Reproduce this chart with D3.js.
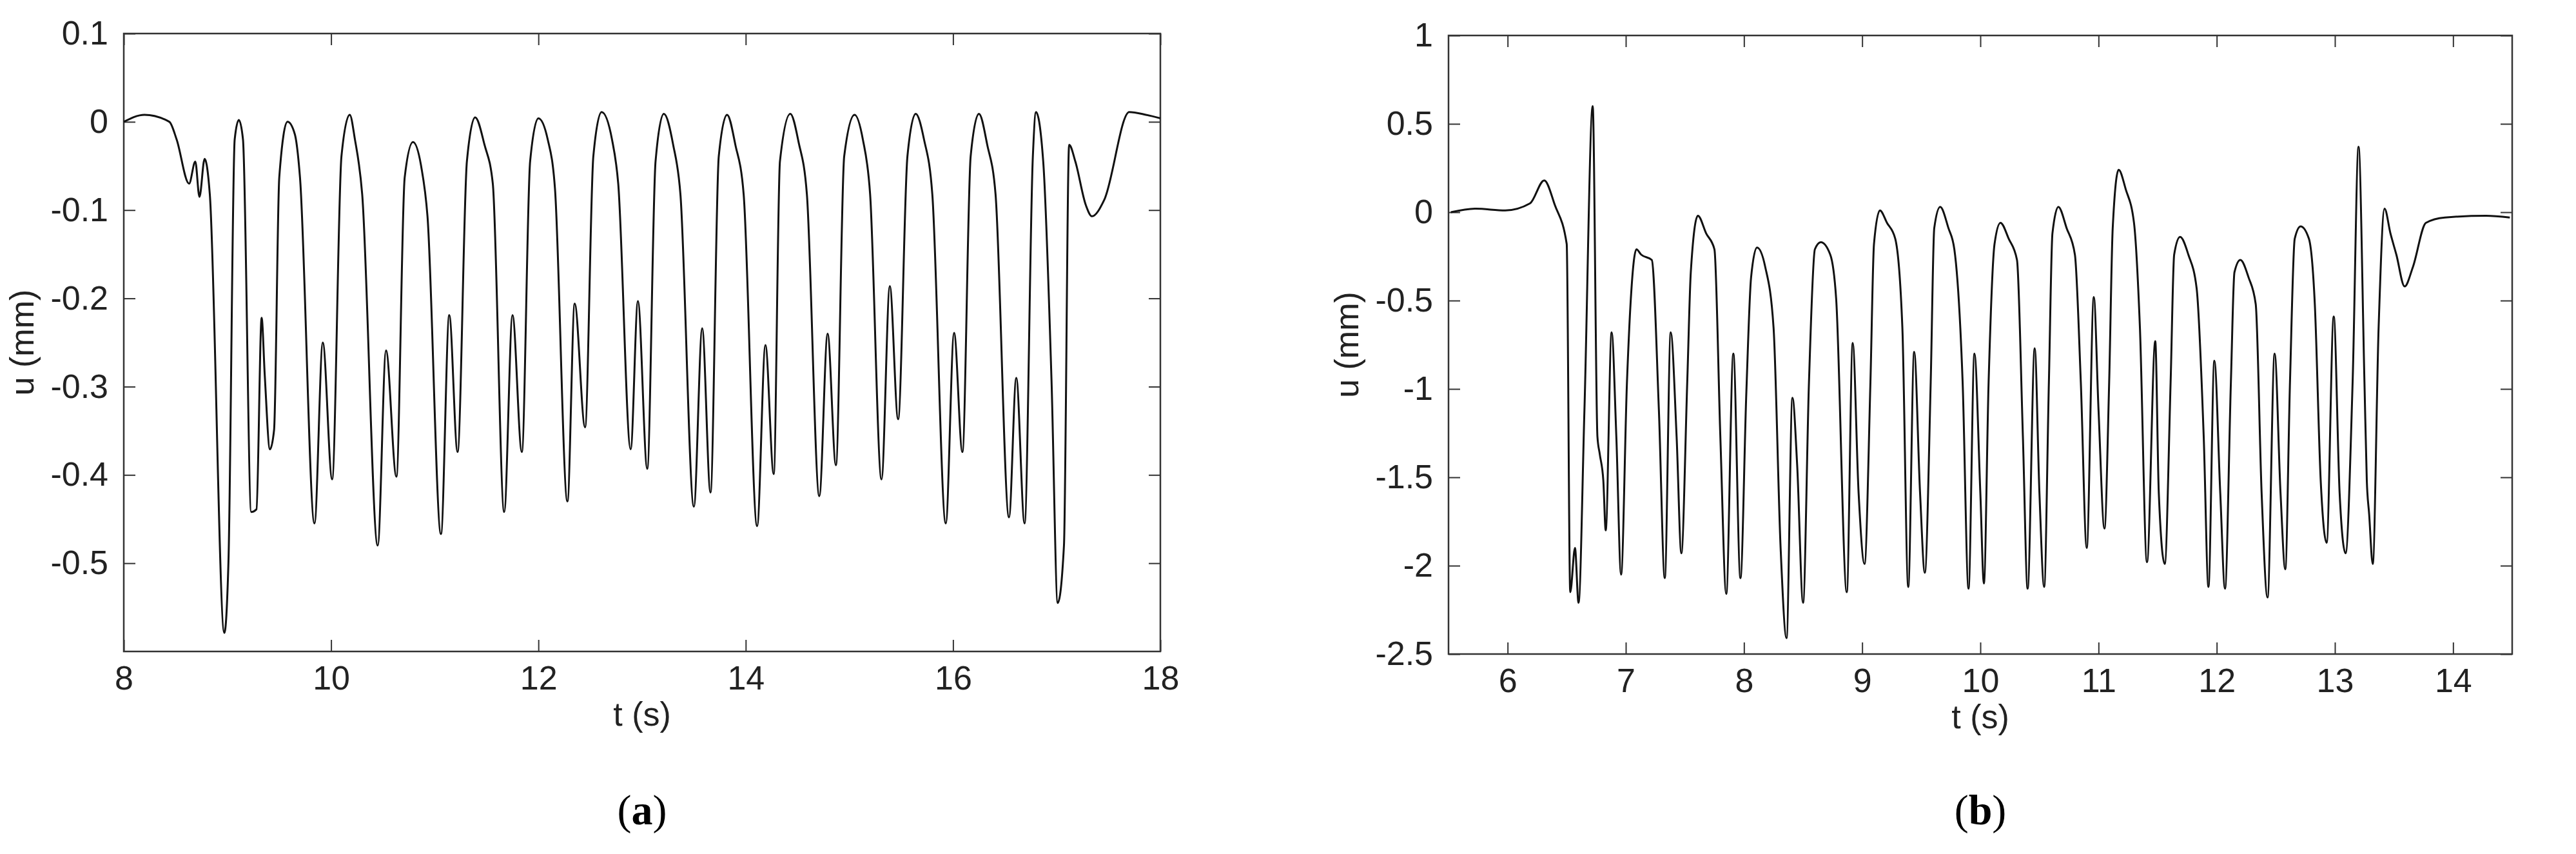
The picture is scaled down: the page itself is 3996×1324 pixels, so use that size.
<!DOCTYPE html>
<html><head><meta charset="utf-8">
<script src="https://cdn.jsdelivr.net/npm/d3@7"></script>
<style>body{margin:0;background:#fff}svg{display:block}</style>
</head><body>
<script>
const aT=[8.00,8.20,8.44,8.51,8.63,8.69,8.73,8.78,8.83,8.97,9.01,9.07,9.11,9.15,9.23,9.28,9.33,9.36,9.41,9.45,9.50,9.58,9.65,9.70,9.84,9.92,10.01,10.10,10.18,10.23,10.30,10.45,10.53,10.63,10.71,10.79,10.87,10.93,11.06,11.14,11.22,11.31,11.39,11.48,11.56,11.67,11.75,11.84,11.92,12.00,12.09,12.16,12.28,12.35,12.45,12.53,12.61,12.71,12.77,12.89,12.96,13.05,13.13,13.21,13.30,13.37,13.50,13.58,13.66,13.74,13.82,13.90,13.98,14.11,14.19,14.27,14.33,14.43,14.51,14.59,14.71,14.79,14.87,14.95,15.05,15.13,15.20,15.31,15.39,15.47,15.56,15.64,15.72,15.80,15.93,16.01,16.09,16.17,16.25,16.33,16.41,16.54,16.61,16.69,16.77,16.80,16.87,16.95,17.01,17.07,17.12,17.18,17.28,17.34,17.46,17.70,17.86,18.00];
const aU=[0,0.008,0,-0.02,-0.07,-0.045,-0.085,-0.042,-0.082,-0.579,-0.498,-0.02,0.002,-0.02,-0.442,-0.439,-0.222,-0.287,-0.371,-0.349,-0.063,0,-0.014,-0.063,-0.455,-0.25,-0.405,-0.039,0.008,-0.02,-0.082,-0.48,-0.259,-0.402,-0.063,-0.023,-0.051,-0.107,-0.467,-0.219,-0.374,-0.045,0.005,-0.026,-0.07,-0.442,-0.219,-0.374,-0.045,0.004,-0.02,-0.076,-0.43,-0.206,-0.346,-0.039,0.011,-0.02,-0.07,-0.371,-0.203,-0.393,-0.045,0.009,-0.026,-0.082,-0.436,-0.234,-0.42,-0.039,0.008,-0.026,-0.082,-0.458,-0.253,-0.399,-0.045,0.009,-0.023,-0.082,-0.424,-0.24,-0.389,-0.039,0.008,-0.02,-0.082,-0.405,-0.186,-0.337,-0.039,0.009,-0.02,-0.082,-0.455,-0.239,-0.374,-0.039,0.009,-0.026,-0.082,-0.448,-0.29,-0.455,-0.039,0.011,-0.045,-0.293,-0.545,-0.48,-0.026,-0.045,-0.094,-0.107,-0.088,0.011,0.008,0.004];
const bT=[5.52,5.73,5.98,6.19,6.31,6.40,6.50,6.53,6.57,6.60,6.65,6.72,6.76,6.78,6.81,6.83,6.88,6.92,6.96,7.01,7.04,7.09,7.13,7.22,7.28,7.33,7.38,7.43,7.47,7.52,7.55,7.61,7.68,7.75,7.80,7.85,7.91,7.97,8.02,8.06,8.11,8.18,8.25,8.31,8.36,8.41,8.45,8.50,8.55,8.60,8.65,8.73,8.78,8.87,8.92,8.97,9.02,9.07,9.10,9.15,9.21,9.28,9.34,9.39,9.44,9.49,9.53,9.58,9.61,9.66,9.73,9.78,9.85,9.90,9.95,10.00,10.03,10.07,10.12,10.17,10.24,10.31,10.36,10.40,10.46,10.50,10.54,10.58,10.61,10.66,10.73,10.80,10.85,10.90,10.96,11.00,11.05,11.09,11.12,11.17,11.23,11.30,11.35,11.41,11.48,11.51,11.56,11.61,11.64,11.69,11.76,11.83,11.89,11.93,11.98,12.03,12.07,12.12,12.15,12.20,12.27,12.33,12.38,12.43,12.49,12.54,12.58,12.62,12.66,12.71,12.78,12.83,12.88,12.93,12.99,13.04,13.09,13.15,13.20,13.25,13.27,13.29,13.32,13.37,13.42,13.47,13.52,13.59,13.66,13.77,13.93,14.28,14.48];
const bU=[0,0.02,0.01,0.05,0.18,0.04,-0.18,-2.15,-1.9,-2.21,-1.12,0.6,-1.27,-1.37,-1.52,-1.8,-0.68,-1.27,-2.05,-0.96,-0.52,-0.21,-0.24,-0.27,-1.12,-2.07,-0.68,-1.27,-1.93,-0.96,-0.34,-0.02,-0.12,-0.21,-1.27,-2.16,-0.8,-2.07,-1.02,-0.37,-0.2,-0.31,-0.65,-1.9,-2.41,-1.05,-1.43,-2.21,-0.96,-0.21,-0.17,-0.24,-0.49,-2.15,-0.74,-1.59,-1.99,-0.96,-0.18,0.01,-0.06,-0.15,-0.65,-2.12,-0.79,-1.59,-2.04,-0.96,-0.09,0.03,-0.09,-0.21,-0.96,-2.13,-0.8,-1.59,-2.1,-0.96,-0.18,-0.06,-0.15,-0.27,-1.27,-2.13,-0.77,-1.59,-2.12,-0.96,-0.12,0.03,-0.09,-0.24,-0.96,-1.9,-0.48,-1.12,-1.79,-0.96,-0.09,0.24,0.13,-0.06,-0.65,-1.98,-0.73,-1.59,-1.99,-0.96,-0.24,-0.14,-0.24,-0.43,-1.27,-2.12,-0.84,-1.59,-2.13,-0.96,-0.34,-0.27,-0.37,-0.52,-1.59,-2.18,-0.8,-1.59,-2.02,-0.96,-0.15,-0.08,-0.15,-0.52,-1.52,-1.87,-0.59,-1.59,-1.93,-0.96,0.37,-0.96,-1.52,-1.71,-1.99,-0.65,0.02,-0.12,-0.24,-0.42,-0.31,-0.06,-0.03,-0.02,-0.03];
const aXTicks=[8,10,12,14,16,18], aYTicks=[0.1,0,-0.1,-0.2,-0.3,-0.4,-0.5];
const bXTicks=[6,7,8,9,10,11,12,13,14], bYTicks=[1,0.5,0,-0.5,-1,-1.5,-2,-2.5];

const FONT="Liberation Sans Narrow, Liberation Sans, Arial, sans-serif";
const svg=d3.select("body").append("svg").attr("width",3996).attr("height",1324);
function panel(o){
  const x=d3.scaleLinear().domain(o.xd).range([o.l,o.r]);
  const y=d3.scaleLinear().domain(o.yd).range([o.b,o.t]);
  const g=svg.append("g").attr("font-family",FONT).attr("fill","#222");
  const ax=(a,tr)=>g.append("g").attr("transform",tr).call(a).call(s=>{s.select(".domain").remove();s.selectAll("line").attr("stroke","#333").attr("stroke-width",2);s.selectAll("text").attr("font-size",52).attr("fill","#222").attr("font-family",FONT);});
  ax(d3.axisBottom(x).tickValues(o.xt).tickSize(-18).tickPadding(22).tickFormat(d=>d),`translate(0,${o.b})`);
  ax(d3.axisTop(x).tickValues(o.xt).tickSize(-18).tickFormat(""),`translate(0,${o.t})`);
  ax(d3.axisLeft(y).tickValues(o.yt).tickSize(-18).tickPadding(24).tickFormat(d=>d),`translate(${o.l},0)`);
  ax(d3.axisRight(y).tickValues(o.yt).tickSize(-18).tickFormat(""),`translate(${o.r},0)`);
  g.append("rect").attr("x",o.l).attr("y",o.t).attr("width",o.r-o.l).attr("height",o.b-o.t).attr("fill","none").attr("stroke","#333").attr("stroke-width",2.5);
  const pts=o.T.map((t,i)=>[t,o.U[i]]);
  g.append("path").datum(pts).attr("fill","none").attr("stroke","#111").attr("stroke-width",3).attr("stroke-linejoin","round")
   .attr("d",d3.line().x(d=>x(d[0])).y(d=>y(d[1])).curve(d3.curveMonotoneX));
  g.append("text").attr("x",(o.l+o.r)/2).attr("y",o.b+115).attr("text-anchor","middle").attr("font-size",52).text("t (s)");
  g.append("text").attr("transform",`translate(${o.l-140},${(o.t+o.b)/2}) rotate(-90)`).attr("text-anchor","middle").attr("font-size",52).text("u (mm)");
  const lab=g.append("text").attr("x",(o.l+o.r)/2).attr("y",1278).attr("text-anchor","middle").attr("font-size",66).attr("font-family","Liberation Serif, serif").attr("fill","#000");
  lab.append("tspan").text("(");lab.append("tspan").attr("font-weight","bold").text(o.lab);lab.append("tspan").text(")");
}
panel({l:192,r:1800,t:52,b:1010,xd:[8,18],yd:[-0.6,0.1],xt:aXTicks,yt:aYTicks,T:aT,U:aU,lab:"a"});
panel({l:2247,r:3897,t:55,b:1014,xd:[5.5,14.5],yd:[-2.5,1],xt:bXTicks,yt:bYTicks,T:bT,U:bU,lab:"b"});
</script>
</body></html>
